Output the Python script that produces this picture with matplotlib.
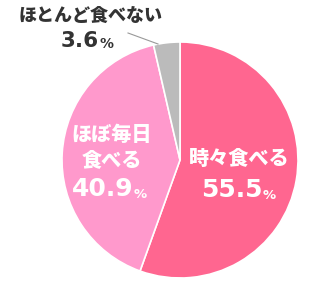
import matplotlib
matplotlib.use("Agg")
import matplotlib.pyplot as plt

plt.rcParams['font.family'] = ['Noto Sans CJK JP', 'DejaVu Sans']

categories = ["時々食べる", "ほぼ毎日\n食べる", "ほとんど食べない"]
values = [55.5, 40.9, 3.6]
colors = ["#FF6690", "#FF99CC", "#BBBBBB"]

W, H = 330, 293
fig = plt.figure(figsize=(W / 100, H / 100), dpi=100)
cx, cy, r = 180, 160, 118
ax = fig.add_axes([(cx - r) / W, (H - cy - r) / H, 2 * r / W, 2 * r / H])
ax.pie(values, colors=colors, startangle=90, counterclock=False, radius=1,
       wedgeprops=dict(edgecolor="white", linewidth=1.2))
ax.set_xlim(-1, 1)
ax.set_ylim(-1, 1)
ax.set_aspect("equal")
ax.axis("off")

def px(x, y):
    return x / W, 1 - y / H

def name_lines(x, y0, text, color, size, pitch=25):
    for i, line in enumerate(text.split("\n")):
        fig.text(*px(x, y0 + i * pitch), line, ha="center", va="center",
                 fontsize=size, fontweight="black", color=color)

def number(x, y, val, color, nsize, psize):
    t = fig.text(*px(x, y), f"{val}", ha="left", va="baseline",
                 fontsize=nsize, fontweight="bold", color=color, family="DejaVu Sans")
    ax.annotate("%", xy=(1, 0), xycoords=t, xytext=(0.3, 0), textcoords="offset points",
                ha="left", va="bottom", fontsize=psize, fontweight="bold",
                color=color, family="DejaVu Sans")

name_lines(239, 159, categories[0], "white", 14.5)
number(201, 197, values[0], "white", 18, 9.5)

name_lines(112, 135, categories[1], "white", 14.5)
number(72, 196, values[1], "white", 18, 9.5)

name_lines(91, 15, categories[2], "#333333", 13)
number(61, 47, values[2], "#333333", 15.5, 10)

fig.add_artist(plt.Line2D([128 / W, 158 / W], [1 - 33 / H, 1 - 44 / H],
                          color="#999999", linewidth=0.8))

fig.savefig("out.png", dpi=100)
